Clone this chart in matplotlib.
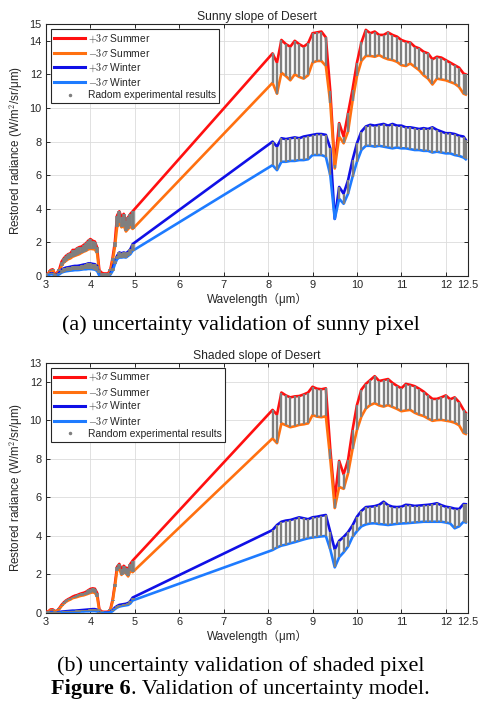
import numpy as np
import matplotlib
matplotlib.use("Agg")
import matplotlib.pyplot as plt
from matplotlib.lines import Line2D

plt.rcParams['font.family'] = ['Liberation Sans', 'Noto Sans CJK SC', 'DejaVu Sans']
plt.rcParams['mathtext.fontset'] = 'cm'

# ---------------- wavelength channels (um) ----------------
wl_mwir = [3.00, 3.05, 3.10, 3.15, 3.20, 3.25, 3.30, 3.35, 3.40, 3.45,
           3.50, 3.55, 3.60, 3.65, 3.70, 3.75, 3.80, 3.85, 3.90, 3.95,
           4.00, 4.05, 4.10, 4.15, 4.20, 4.25, 4.30, 4.35, 4.40, 4.45,
           4.50, 4.55, 4.60, 4.65, 4.70, 4.75, 4.80, 4.85, 4.90, 4.95]
wl_tir = [8.1, 8.2, 8.3, 8.4, 8.5, 8.6, 8.7, 8.8, 8.9, 9.0,
          9.1, 9.2, 9.3, 9.4, 9.5, 9.6, 9.7, 9.8, 9.9, 10.0,
          10.1, 10.2, 10.3, 10.4, 10.5, 10.6, 10.7, 10.8, 10.9, 11.0,
          11.1, 11.2, 11.3, 11.4, 11.5, 11.6, 11.7, 11.8, 11.9, 12.0,
          12.1, 12.2, 12.3, 12.4, 12.45]

# ---------------- (a) sunny slope ----------------
sunny_summer_up_mwir = [0.10, 0.15, 0.35, 0.40, 0.12, 0.20, 0.40, 0.85, 1.05, 1.20,
                        1.30, 1.35, 1.55, 1.55, 1.65, 1.72, 1.75, 1.85, 1.95, 2.10,
                        2.20, 2.10, 2.05, 1.70, 0.35, 0.20, 0.15, 0.15, 0.15, 0.40,
                        1.10, 2.00, 3.60, 3.85, 3.50, 3.70, 3.30, 3.50, 3.70, 3.85]
sunny_summer_lo_mwir = [0.05, 0.10, 0.30, 0.35, 0.08, 0.15, 0.30, 0.60, 0.80, 0.90,
                        1.00, 1.05, 1.15, 1.20, 1.25, 1.30, 1.38, 1.45, 1.50, 1.58,
                        1.62, 1.60, 1.58, 1.35, 0.20, 0.08, 0.05, 0.05, 0.05, 0.30,
                        0.90, 1.70, 2.90, 3.15, 2.90, 3.00, 2.65, 2.80, 2.95, 2.80]
sunny_winter_up_mwir = [0.05, 0.08, 0.15, 0.15, 0.05, 0.08, 0.20, 0.38, 0.45, 0.50,
                        0.52, 0.55, 0.58, 0.60, 0.60, 0.62, 0.65, 0.68, 0.70, 0.75,
                        0.75, 0.72, 0.70, 0.60, 0.08, 0.05, 0.04, 0.04, 0.05, 0.15,
                        0.45, 0.90, 1.20, 1.40, 1.35, 1.40, 1.35, 1.45, 1.60, 1.90]
sunny_winter_lo_mwir = [0.02, 0.04, 0.10, 0.10, 0.02, 0.04, 0.10, 0.20, 0.25, 0.28,
                        0.30, 0.32, 0.33, 0.35, 0.35, 0.36, 0.38, 0.40, 0.40, 0.42,
                        0.42, 0.40, 0.38, 0.30, 0.03, 0.02, 0.01, 0.01, 0.02, 0.08,
                        0.30, 0.70, 1.00, 1.10, 1.10, 1.12, 1.10, 1.20, 1.30, 1.50]
sunny_summer_up_tir = [13.25, 12.70, 14.05, 13.80, 13.65, 14.00, 13.80, 13.65, 13.85, 14.45,
                       14.50, 14.55, 14.20, 11.00, 6.60, 9.10, 8.30, 9.70, 11.10, 12.70,
                       13.90, 14.65, 14.45, 14.55, 14.35, 14.35, 14.50, 14.35, 14.25, 14.05,
                       13.95, 13.90, 13.65, 13.55, 13.35, 13.25, 12.90, 13.05, 13.00, 12.85,
                       12.70, 12.55, 12.40, 12.05, 12.00]
sunny_summer_lo_tir = [11.50, 10.85, 12.10, 11.90, 11.65, 12.00, 11.85, 11.75, 11.95, 12.70,
                       12.80, 12.80, 12.50, 10.30, 6.40, 8.30, 7.90, 8.60, 10.40, 11.90,
                       12.80, 13.10, 13.10, 13.05, 13.15, 13.00, 12.90, 12.85, 12.75, 12.55,
                       12.50, 12.65, 12.45, 12.25, 11.95, 11.75, 11.40, 11.75, 11.70, 11.65,
                       11.55, 11.45, 11.25, 10.85, 10.80]
sunny_winter_up_tir = [8.00, 7.70, 8.20, 8.15, 8.20, 8.25, 8.20, 8.30, 8.35, 8.40,
                       8.45, 8.45, 8.40, 7.60, 3.40, 5.30, 4.90, 5.70, 6.90, 7.90,
                       8.60, 8.90, 9.00, 8.95, 9.00, 9.05, 8.95, 9.05, 8.95, 8.95,
                       8.85, 8.85, 8.80, 8.75, 8.80, 8.75, 8.85, 8.70, 8.60, 8.50,
                       8.50, 8.45, 8.35, 8.30, 8.10]
sunny_winter_lo_tir = [6.60, 6.30, 6.80, 6.80, 6.85, 6.85, 6.90, 6.90, 6.95, 7.20,
                       7.20, 7.20, 7.10, 6.00, 3.40, 4.60, 4.30, 4.90, 5.90, 6.80,
                       7.50, 7.75, 7.75, 7.70, 7.75, 7.70, 7.65, 7.60, 7.65, 7.60,
                       7.60, 7.55, 7.50, 7.50, 7.45, 7.45, 7.35, 7.40, 7.35, 7.30,
                       7.30, 7.20, 7.15, 7.05, 6.95]

# ---------------- (b) shaded slope ----------------
shaded_summer_up_mwir = [0.07, 0.08, 0.18, 0.19, 0.10, 0.12, 0.25, 0.42, 0.55, 0.65,
                         0.72, 0.78, 0.85, 0.90, 0.93, 0.98, 1.02, 1.05, 1.10, 1.18,
                         1.25, 1.28, 1.26, 1.05, 0.20, 0.08, 0.06, 0.06, 0.07, 0.20,
                         0.70, 1.50, 2.40, 2.55, 2.27, 2.45, 2.35, 2.30, 2.55, 2.72]
shaded_summer_lo_mwir = [0.04, 0.05, 0.14, 0.15, 0.07, 0.09, 0.20, 0.36, 0.48, 0.58,
                         0.65, 0.70, 0.77, 0.80, 0.83, 0.87, 0.90, 0.92, 0.96, 1.00,
                         1.05, 1.07, 1.05, 0.85, 0.12, 0.04, 0.03, 0.03, 0.04, 0.15,
                         0.60, 1.35, 2.20, 2.30, 1.98, 2.15, 2.05, 1.90, 2.20, 2.12]
shaded_winter_up_mwir = [0.03, 0.03, 0.05, 0.05, 0.03, 0.03, 0.05, 0.07, 0.08, 0.09,
                         0.10, 0.11, 0.12, 0.12, 0.13, 0.14, 0.15, 0.16, 0.17, 0.18,
                         0.19, 0.20, 0.20, 0.17, 0.03, 0.02, 0.02, 0.02, 0.02, 0.05,
                         0.15, 0.28, 0.36, 0.42, 0.44, 0.46, 0.48, 0.52, 0.62, 0.80]
shaded_winter_lo_mwir = [0.01, 0.01, 0.02, 0.02, 0.01, 0.01, 0.02, 0.03, 0.04, 0.04,
                         0.05, 0.05, 0.06, 0.06, 0.07, 0.07, 0.08, 0.08, 0.09, 0.09,
                         0.10, 0.10, 0.10, 0.08, 0.01, 0.01, 0.01, 0.01, 0.01, 0.03,
                         0.10, 0.20, 0.28, 0.33, 0.36, 0.38, 0.40, 0.42, 0.50, 0.65]
shaded_summer_up_tir = [10.55, 10.30, 11.45, 11.30, 11.20, 11.25, 11.27, 11.35, 11.45, 11.75,
                        11.65, 11.62, 11.67, 8.50, 5.90, 7.90, 7.20, 7.95, 9.50, 10.80,
                        11.60, 11.90, 12.10, 12.30, 12.05, 12.10, 12.15, 11.95, 11.80, 11.67,
                        11.90, 11.85, 11.78, 11.65, 11.50, 11.30, 11.12, 11.12, 11.20, 11.30,
                        11.10, 11.20, 10.95, 10.55, 10.40]
shaded_summer_lo_tir = [9.07, 8.82, 9.85, 9.75, 9.65, 9.70, 9.77, 9.80, 9.85, 10.28,
                        10.20, 10.17, 10.22, 8.00, 5.45, 6.55, 6.45, 7.25, 8.50, 9.50,
                        10.20, 10.62, 10.80, 10.90, 10.78, 10.72, 10.80, 10.70, 10.60, 10.48,
                        10.52, 10.55, 10.40, 10.30, 10.23, 10.10, 9.98, 10.02, 10.03, 9.99,
                        9.95, 9.88, 9.75, 9.35, 9.30]
shaded_winter_up_tir = [4.31, 4.57, 4.74, 4.80, 4.83, 4.90, 4.97, 4.92, 4.87, 4.97,
                        5.00, 5.05, 5.09, 4.20, 3.30, 3.75, 3.95, 4.20, 4.55, 5.00,
                        5.30, 5.50, 5.52, 5.55, 5.62, 5.78, 5.60, 5.52, 5.50, 5.52,
                        5.62, 5.60, 5.56, 5.58, 5.60, 5.62, 5.65, 5.70, 5.60, 5.52,
                        5.48, 5.42, 5.40, 5.66, 5.65]
shaded_winter_lo_tir = [3.27, 3.40, 3.50, 3.55, 3.62, 3.68, 3.75, 3.82, 3.88, 3.92,
                        3.95, 3.98, 4.00, 3.30, 2.37, 2.90, 3.15, 3.45, 3.95, 4.25,
                        4.50, 4.60, 4.65, 4.66, 4.62, 4.60, 4.57, 4.60, 4.63, 4.65,
                        4.66, 4.68, 4.70, 4.72, 4.74, 4.74, 4.74, 4.74, 4.74, 4.70,
                        4.65, 4.40, 4.50, 4.74, 4.70]

series_labels = [r'$+3\sigma$ Summer', r'$-3\sigma$ Summer',
                 r'$+3\sigma$ Winter', r'$-3\sigma$ Winter']
series_colors = ['#ff1010', '#ff7010', '#1010e6', '#1e7bff']

x_ticks = [3, 4, 5, 6, 7, 8, 9, 10, 11, 12, 12.5]
x_ticklabels = ['3', '4', '5', '6', '7', '8', '9', '10', '11', '12', '12.5']

W, H = 481, 705
fig = plt.figure(figsize=(W / 100, H / 100), dpi=100)
INK = '#262626'
GRAY = '#7f7f7f'

def panel(rect, title, ymax, yticks, up_s, lo_s, up_w, lo_w, legend_last):
    ax = fig.add_axes(rect)
    wl = np.array(wl_mwir + wl_tir)
    curves = [np.array(up_s), np.array(lo_s), np.array(up_w), np.array(lo_w)]
    for c, col in zip(curves, series_colors):
        ax.plot(wl, c, color=col, lw=1.9, zorder=3, solid_joinstyle='round')
    # random experimental results (gray point clouds drawn as dense vertical bars)
    n1 = len(wl_mwir)
    for lo, up in ((curves[1], curves[0]), (curves[3], curves[2])):
        ax.vlines(wl[:n1], lo[:n1], up[:n1], color=GRAY, lw=2.6, zorder=4)
        ax.vlines(wl[n1:], lo[n1:], up[n1:], color=GRAY, lw=1.7, zorder=4)
    ax.set_xlim(3, 12.5)
    ax.set_ylim(0, ymax)
    ax.set_xticks(x_ticks)
    ax.set_xticklabels(x_ticklabels)
    ax.set_yticks(yticks)
    ax.grid(True, color='#dcdcdc', lw=0.6)
    ax.set_axisbelow(True)
    ax.tick_params(direction='in', top=True, right=True, length=3, width=0.7,
                   labelsize=7.9, colors=INK, pad=3)
    for s in ax.spines.values():
        s.set_color(INK)
        s.set_linewidth(0.8)
    ax.set_title(title, fontsize=8.7, color=INK, pad=3)
    ax.set_xlabel('Wavelength（μm）', fontsize=8.4, color=INK, labelpad=2)
    ax.set_ylabel(r'Restored radiance (W/m$^2$/sr/μm)', fontsize=8.4, color=INK, labelpad=3)
    handles = [Line2D([], [], color=c, lw=2.2) for c in series_colors]
    handles.append(Line2D([], [], color=GRAY, marker='.', ls='none', ms=3))
    leg = ax.legend(handles, series_labels + [legend_last], loc='upper left',
                    fontsize=7.4, frameon=True, fancybox=False, handlelength=3.0,
                    handletextpad=0.3, labelspacing=0.22, borderpad=0.3,
                    borderaxespad=0.5, framealpha=1)
    leg.get_frame().set_edgecolor(INK)
    leg.get_frame().set_linewidth(0.8)
    for t in leg.get_texts():
        t.set_color(INK)
    return ax

panel([46 / W, 1 - 276 / H, 422 / W, 252 / H], 'Sunny slope of Desert', 15,
      [0, 2, 4, 6, 8, 10, 12, 14, 15],
      sunny_summer_up_mwir + sunny_summer_up_tir, sunny_summer_lo_mwir + sunny_summer_lo_tir,
      sunny_winter_up_mwir + sunny_winter_up_tir, sunny_winter_lo_mwir + sunny_winter_lo_tir,
      'Radom experimental results')
panel([46 / W, 1 - 613 / H, 422 / W, 250.3 / H], 'Shaded slope of Desert', 13,
      [0, 2, 4, 6, 8, 10, 12, 13],
      shaded_summer_up_mwir + shaded_summer_up_tir, shaded_summer_lo_mwir + shaded_summer_lo_tir,
      shaded_winter_up_mwir + shaded_winter_up_tir, shaded_winter_lo_mwir + shaded_winter_lo_tir,
      'Random experimental results')

serif = ['Liberation Serif', 'DejaVu Serif']
CAP = 16
fig.text(0.5, 1 - 325 / H, '(a) uncertainty validation of sunny pixel', ha='center', va='center',
         fontsize=CAP, family=serif)
fig.text(0.5, 1 - 666 / H, '(b) uncertainty validation of shaded pixel', ha='center', va='center',
         fontsize=CAP, family=serif)

# "Figure 6" in bold followed by regular text, centred together
y_fig = 1 - 689 / H
t1 = fig.text(0, y_fig, 'Figure 6', ha='left', va='center', fontsize=CAP, family=serif,
              fontweight='bold')
t2 = fig.text(0, y_fig, '. Validation of uncertainty model.', ha='left', va='center',
              fontsize=CAP, family=serif)
r = fig.canvas.get_renderer()
w1 = t1.get_window_extent(r).width
w2 = t2.get_window_extent(r).width
x0 = (W - (w1 + w2)) / 2
t1.set_x(x0 / W)
t2.set_x((x0 + w1) / W)

fig.savefig('out.png', dpi=100)
